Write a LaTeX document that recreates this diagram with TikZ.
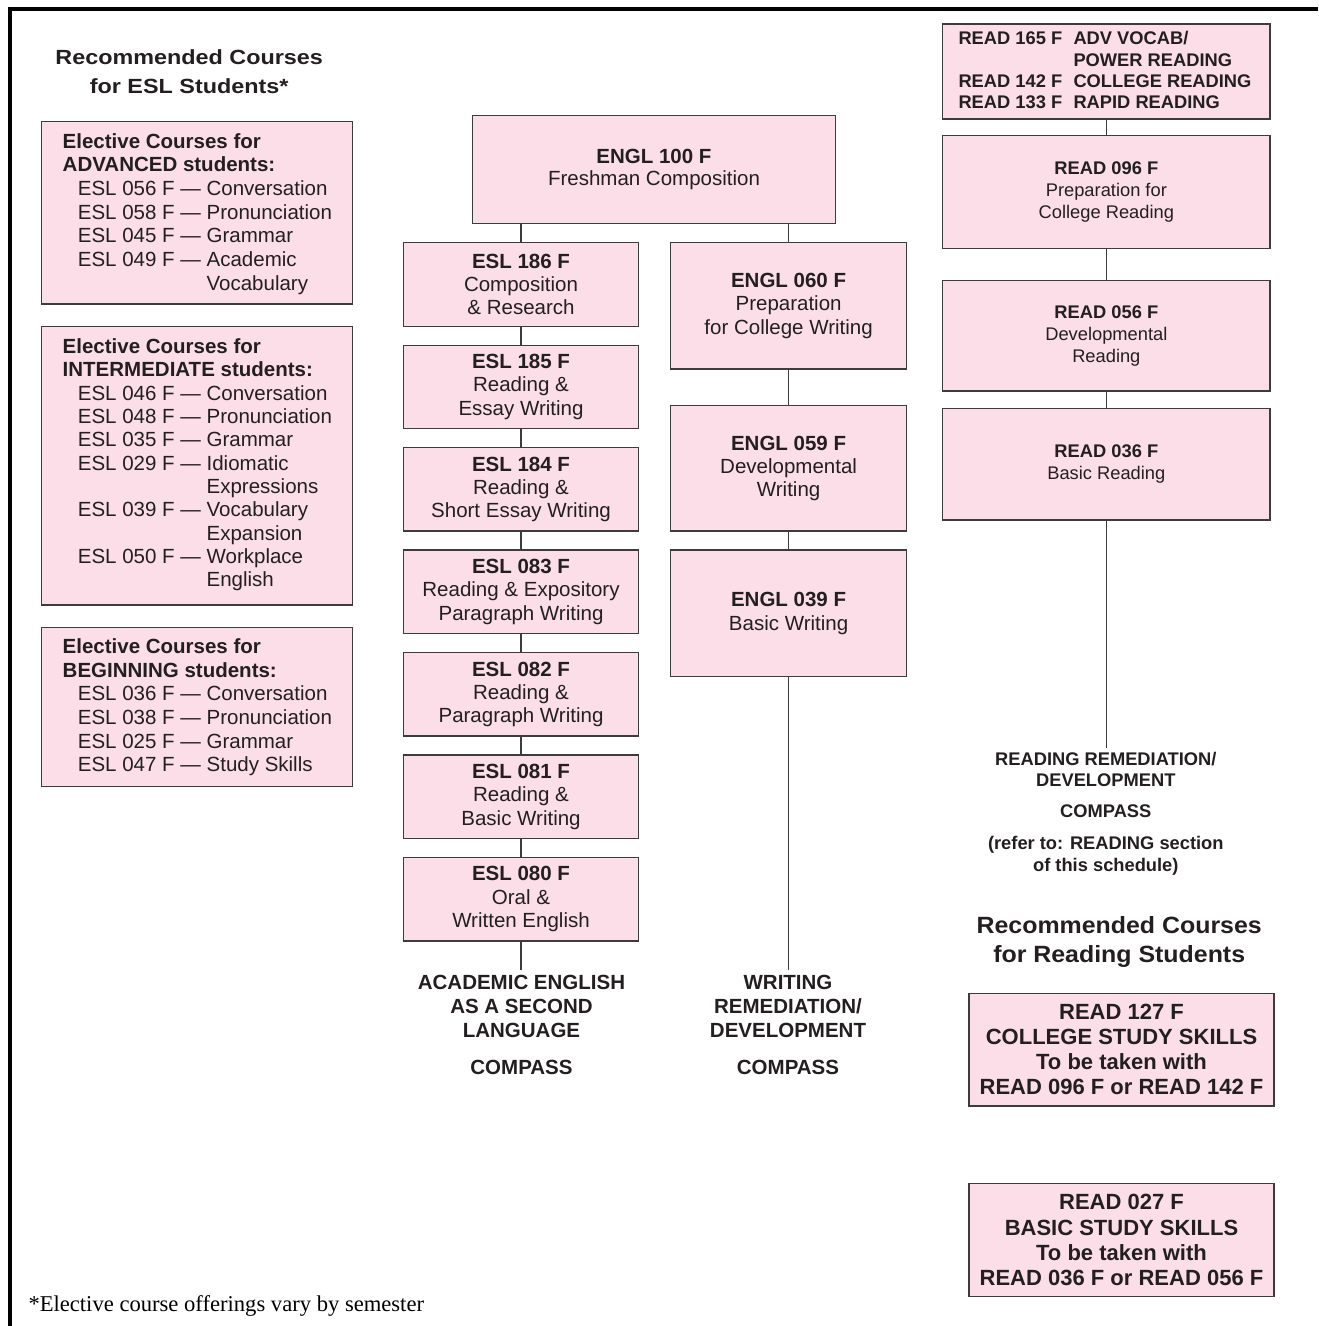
\documentclass[tikz,border=0pt]{standalone}
\usepackage{fontspec}
\setmainfont{Liberation Sans}
\newfontfamily\fnserif{Liberation Serif}
\definecolor{boxpink}{HTML}{FBDEE8}
\definecolor{boxline}{HTML}{3C3C3C}
\definecolor{ink}{HTML}{231F20}
\tikzset{
  cbox/.style={draw=boxline, fill=boxpink, line width=1.4pt, inner sep=0pt, align=center, text=ink},
  bigtxt/.style={font=\fontsize{20.5}{23.3}\selectfont},
  smtxt/.style={font=\fontsize{18.3}{21.7}\selectfont},
  ltxt/.style={inner sep=0pt, anchor=base west, text=ink, font=\fontsize{20.5}{23.4}\selectfont},
  rtxt/.style={inner sep=0pt, anchor=base west, text=ink, font=\bfseries\fontsize{18.3}{21.2}\selectfont},
  conn/.style={draw=boxline, line width=1.4pt},
  lab/.style={inner sep=0pt, align=center, text=ink, font=\bfseries\fontsize{20.5}{24.2}\selectfont},
  rlab/.style={inner sep=0pt, align=center, text=ink, font=\bfseries\fontsize{18.3}{21.7}\selectfont},
  ttl/.style={inner sep=0pt, align=center, text=ink},
}
\newcommand\eln[4]{\node[ltxt] (#1) at (#2,#3) {#4};}
\newcommand\rln[4]{\node[rtxt] (#1) at (#2,#3) {#4};}
\begin{document}
\begin{tikzpicture}[x=1pt,y=-1pt]
\useasboundingbox (0,0) rectangle (1318,1326);
% frame
\draw[line width=3.5pt, black] (1318,9) -- (10,9) -- (10,1326);

% ESL title
\node[ttl, font=\bfseries\fontsize{20.5}{28.3}\selectfont, xscale=1.14] (esltitle) at (189.2,71.7) {Recommended Courses\\for ESL Students*};

% elective boxes
\node[cbox, minimum width=310.8, minimum height=182.3] (adv) at (197.1,212.85) {};
\node[cbox, minimum width=310.8, minimum height=278.3] (inter) at (197.1,465.85) {};
\node[cbox, minimum width=310.8, minimum height=159.4] (beg) at (197.1,707) {};

\eln{a1}{62.5}{148}{\bfseries Elective Courses for}
\eln{a2}{62.5}{171.7}{\bfseries ADVANCED students:}
\eln{a3}{77.7}{195.4}{ESL 056 F — Conversation}
\eln{a4}{77.7}{219.1}{ESL 058 F — Pronunciation}
\eln{a5}{77.7}{242.8}{ESL 045 F — Grammar}
\eln{a6}{77.7}{266.5}{ESL 049 F — Academic}
\eln{a7}{77.7}{290.2}{\phantom{ESL 049 F — }Vocabulary}

\eln{i1}{62.5}{353.3}{\bfseries Elective Courses for}
\eln{i2}{62.5}{376.6}{\bfseries INTERMEDIATE students:}
\eln{i3}{77.7}{400.0}{ESL 046 F — Conversation}
\eln{i4}{77.7}{423.3}{ESL 048 F — Pronunciation}
\eln{i5}{77.7}{446.7}{ESL 035 F — Grammar}
\eln{i6}{77.7}{470.0}{ESL 029 F — Idiomatic}
\eln{i7}{77.7}{493.3}{\phantom{ESL 029 F — }Expressions}
\eln{i8}{77.7}{516.7}{ESL 039 F — Vocabulary}
\eln{i9}{77.7}{540.0}{\phantom{ESL 039 F — }Expansion}
\eln{i10}{77.7}{563.4}{ESL 050 F — Workplace}
\eln{i11}{77.7}{586.7}{\phantom{ESL 050 F — }English}

\eln{b1}{62.5}{653.3}{\bfseries Elective Courses for}
\eln{b2}{62.5}{677.0}{\bfseries BEGINNING students:}
\eln{b3}{77.7}{700.7}{ESL 036 F — Conversation}
\eln{b4}{77.7}{724.3}{ESL 038 F — Pronunciation}
\eln{b5}{77.7}{748.0}{ESL 025 F — Grammar}
\eln{b6}{77.7}{771.7}{ESL 047 F — Study Skills}

% ENGL 100
\node[cbox, font=\fontsize{20.5}{21.5}\selectfont, minimum width=362.6, minimum height=107.6] (engl100) at (654,169.5) {\textbf{ENGL 100 F}\\Freshman Composition};

% ESL column
\node[cbox, bigtxt, minimum width=235.4, minimum height=83.5] (esl186) at (521,284.45) {\textbf{ESL 186 F}\\Composition\\\& Research};
\node[cbox, bigtxt, minimum width=235.4, minimum height=83.5] (esl185) at (521,386.95) {\textbf{ESL 185 F}\\Reading \&\\Essay Writing};
\node[cbox, bigtxt, minimum width=235.4, minimum height=83.5] (esl184) at (521,489.4) {\textbf{ESL 184 F}\\Reading \&\\Short Essay Writing};
\node[cbox, bigtxt, minimum width=235.4, minimum height=83.5] (esl083) at (521,591.85) {\textbf{ESL 083 F}\\Reading \& Expository\\Paragraph Writing};
\node[cbox, bigtxt, minimum width=235.4, minimum height=83.5] (esl082) at (521,694.35) {\textbf{ESL 082 F}\\Reading \&\\Paragraph Writing};
\node[cbox, bigtxt, minimum width=235.4, minimum height=83.5] (esl081) at (521,796.85) {\textbf{ESL 081 F}\\Reading \&\\Basic Writing};
\node[cbox, bigtxt, minimum width=235.4, minimum height=83.5] (esl080) at (521,899.25) {\textbf{ESL 080 F}\\Oral \&\\Written English};
\coordinate (eslend) at (521,970);

% Writing column
\node[cbox, bigtxt, minimum width=235.8, minimum height=126.3] (engl060) at (788.6,305.85) {\textbf{ENGL 060 F}\\Preparation\\for College Writing};
\node[cbox, bigtxt, minimum width=235.8, minimum height=125.3] (engl059) at (788.6,468.35) {\textbf{ENGL 059 F}\\Developmental\\Writing};
\node[cbox, bigtxt, minimum width=235.8, minimum height=126.7] (engl039) at (788.6,613.35) {\textbf{ENGL 039 F}\\Basic Writing};
\coordinate (wrend) at (788.6,970);

% Reading column
\node[cbox, minimum width=327.3, minimum height=95] (readtop) at (1106.35,71.5) {};
\rln{r1}{958.3}{44.8}{READ 165 F}
\rln{r2}{1073.3}{44.8}{ADV VOCAB/}
\rln{r3}{1073.3}{66}{POWER READING}
\rln{r4}{958.3}{87.2}{READ 142 F}
\rln{r5}{1073.3}{87.2}{COLLEGE READING}
\rln{r6}{958.3}{108.4}{READ 133 F}
\rln{r7}{1073.3}{108.4}{RAPID READING}

\node[cbox, smtxt, minimum width=327.3, minimum height=112.6] (read096) at (1106.35,192) {\textbf{READ 096 F}\\Preparation for\\College Reading};
\node[cbox, smtxt, minimum width=327.3, minimum height=110.3] (read056) at (1106.35,335.85) {\textbf{READ 056 F}\\Developmental\\Reading};
\node[cbox, smtxt, minimum width=327.3, minimum height=111.7] (read036) at (1106.35,464.15) {\textbf{READ 036 F}\\Basic Reading};
\coordinate (rdend) at (1106.35,748);

% connectors
\draw[conn] (esl186.north |- engl100.south) -- (esl186.north);
\draw[conn] (engl060.north |- engl100.south) -- (engl060.north);
\foreach \a/\b in {esl186/esl185, esl185/esl184, esl184/esl083, esl083/esl082, esl082/esl081, esl081/esl080, esl080/eslend,
                   engl060/engl059, engl059/engl039, engl039/wrend,
                   readtop/read096, read096/read056, read056/read036, read036/rdend}
  \draw[conn] (\a) -- (\b);

% bottom labels
\node[lab] (esllab) at (521.5,1006.7) {ACADEMIC ENGLISH\\AS A SECOND\\LANGUAGE};
\node[lab, anchor=base] (eslcomp) at (521.5,1074) {COMPASS};
\node[lab] (wrlab) at (788,1006.7) {WRITING\\REMEDIATION/\\DEVELOPMENT};
\node[lab, anchor=base] (wrcomp) at (788,1074) {COMPASS};

\node[rlab] (rdlab) at (1105.8,769.3) {READING REMEDIATION/\\DEVELOPMENT};
\node[rlab, anchor=base] (rdcomp) at (1105.8,817.3) {COMPASS};
\node[rlab] (rdref) at (1105.8,856) {(refer to: READING section\\of this schedule)};

% reading title
\node[ttl, font=\bfseries\fontsize{23.5}{29.4}\selectfont, xscale=1.06] (rdtitle) at (1119.2,941.9) {Recommended Courses\\for Reading Students};

\node[cbox, font=\bfseries\fontsize{22}{25.1}\selectfont, minimum width=305, minimum height=112.7] (read127) at (1121.5,1049.65) {READ 127 F\\COLLEGE STUDY SKILLS\\To be taken with\\READ 096 F or READ 142 F};
\node[cbox, font=\bfseries\fontsize{22}{25.1}\selectfont, minimum width=305, minimum height=113.4] (read027) at (1121.5,1240) {READ 027 F\\BASIC STUDY SKILLS\\To be taken with\\READ 036 F or READ 056 F};

% footnote
\node[inner sep=0pt, anchor=base west, text=black, font=\fnserif\fontsize{22.6}{27}\selectfont] (foot) at (28.3,1311.7) {*Elective course offerings vary by semester};
\end{tikzpicture}
\end{document}
